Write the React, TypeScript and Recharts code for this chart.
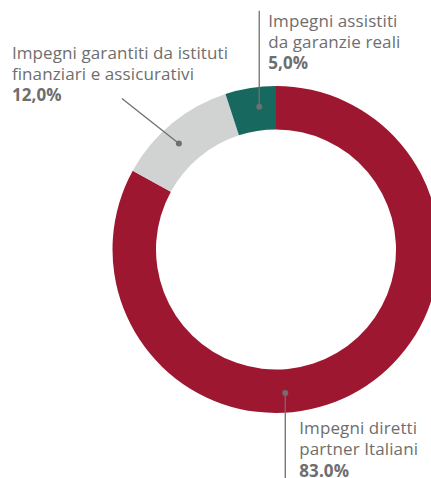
import React from 'react';
import { PieChart, Pie, Cell } from 'recharts';

// data, clockwise from 12 o'clock
const categories = [
  ['Impegni diretti', 'partner Italiani'],
  ['Impegni garantiti da istituti', 'finanziari e assicurativi'],
  ['Impegni assistiti', 'da garanzie reali'],
];
const values = [83, 12, 5];
const valueLabels = ['83.0%', '12,0%', '5,0%'];

const colors = ['#9E1730', '#D1D3D2', '#17685F'];

// callout layout per slice: dot angle, leader end (relative to dot), text origin (relative to dot)
const callouts = [
  { angle: -86.3, line: [0, 90], text: [14, 41] },
  { angle: 132.5, line: [-57, -45], text: [-167, -85] },
  { angle: 96.7, line: [0, -96], text: [9, -80] },
];

const RAD = Math.PI / 180;
const TEXT = '#6e6e6e';
const LINE_H = 21.3;

const data = values.map((v, i) => ({ name: categories[i].join(' '), value: v }));

function Callout(props: any) {
  const { cx, cy, innerRadius, outerRadius, index } = props;
  const c = callouts[index];
  const r = (innerRadius + outerRadius) / 2 + 2;
  const x = cx + r * Math.cos(c.angle * RAD);
  const y = cy - r * Math.sin(c.angle * RAD);
  const tx = x + c.text[0];
  const ty = y + c.text[1];
  return (
    <g>
      <line x1={x} y1={y} x2={x + c.line[0]} y2={y + c.line[1]} stroke="#6f6f6f" strokeWidth={1.3} />
      <circle cx={x} cy={y} r={3} fill="#6f6f6f" />
      <text x={tx} y={ty} fill={TEXT} fontSize={17} letterSpacing={0.1} fontFamily="Open Sans, sans-serif">
        {categories[index].map((t, k) => (
          <tspan key={k} x={tx} y={ty + k * LINE_H}>{t}</tspan>
        ))}
        <tspan x={tx} y={ty + 2 * LINE_H} fontWeight={700}>{valueLabels[index]}</tspan>
      </text>
    </g>
  );
}

export default function App() {
  return (
    <div style={{ position: 'absolute', left: 0, top: 0, width: 431, height: 478, background: '#fff', overflow: 'hidden' }}>
      <PieChart width={431} height={478} margin={{ top: 0, right: 0, bottom: 0, left: 0 }}>
        <Pie
          data={data}
          dataKey="value"
          cx={276}
          cy={249.5}
          innerRadius={120}
          outerRadius={163.5}
          startAngle={90}
          endAngle={-270}
          stroke="none"
          label={Callout}
          labelLine={false}
          isAnimationActive={false}
        >
          {data.map((d, i) => (
            <Cell key={d.name} fill={colors[i]} />
          ))}
        </Pie>
      </PieChart>
    </div>
  );
}
